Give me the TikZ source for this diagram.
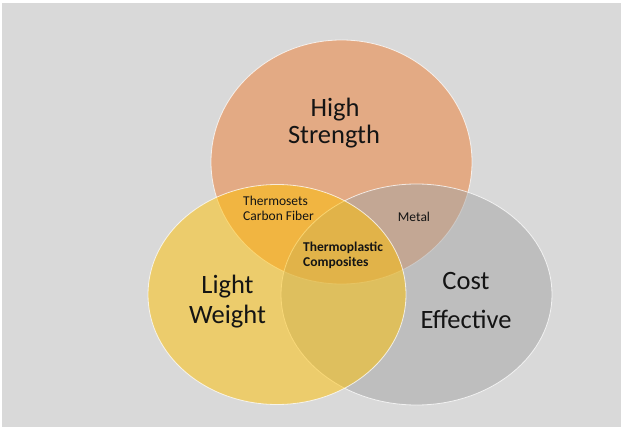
\documentclass[tikz,border=0pt]{standalone}
\usepackage{fontspec}
\setmainfont{Carlito}
\usetikzlibrary{shapes.geometric}
\definecolor{bgpanel}{HTML}{D9D9D9}
\definecolor{setorange}{HTML}{ED7D31}
\definecolor{setgray}{HTML}{A5A5A5}
\definecolor{setgold}{HTML}{FFC000}
\definecolor{labelink}{HTML}{141414}
\begin{document}
\begin{tikzpicture}[x=1pt,y=-1pt,
  setdisc/.style={ellipse, inner sep=0pt, outer sep=0pt, fill opacity=0.5,
    draw=white, draw opacity=0.75, line width=0.8pt},
  biglabel/.style={anchor=base, inner sep=0pt, text=labelink,
    font=\fontsize{26.5}{30}\selectfont},
  smalllabel/.style={anchor=base west, inner sep=0pt, text=labelink,
    font=\fontsize{13.5}{16}\selectfont},
  boldlabel/.style={smalllabel, font=\fontsize{13.5}{16}\selectfont\bfseries}]
\useasboundingbox (0,0) rectangle (621,428);
\fill[white] (0,0) rectangle (621,428);
\fill[bgpanel] (2,3) rectangle (621,427);

% the three overlapping sets, drawn back to front
\node[setdisc, fill=setorange, minimum width=261pt, minimum height=244pt] (strength) at (341.5,162) {};
\node[setdisc, fill=setgray, minimum width=271pt, minimum height=221pt] (cost) at (416.5,294.5) {};
\node[setdisc, fill=setgold, minimum width=258pt, minimum height=220pt] (weight) at (277,294.5) {};

% set titles
\node[biglabel] (hs1) at (335,116.7) {High};
\node[biglabel] (hs2) at (334,143.3) {Strength};
\node[biglabel] (lw1) at (227.5,293) {Light};
\node[biglabel] (lw2) at (227.5,323) {Weight};
\node[biglabel] (ce1) at (466,289) {Cost};
\node[biglabel] (ce2) at (466,328) {Effective};

% overlap labels
\node[smalllabel] (ts1) at (243,205) {Thermosets};
\node[smalllabel] (ts2) at (243,220.7) {Carbon Fiber};
\node[smalllabel, anchor=base] (mt) at (414,221.7) {Metal};
\node[boldlabel] (tp1) at (303,251.7) {Thermoplastic};
\node[boldlabel] (tp2) at (303,266.7) {Composites};
\end{tikzpicture}
\end{document}
